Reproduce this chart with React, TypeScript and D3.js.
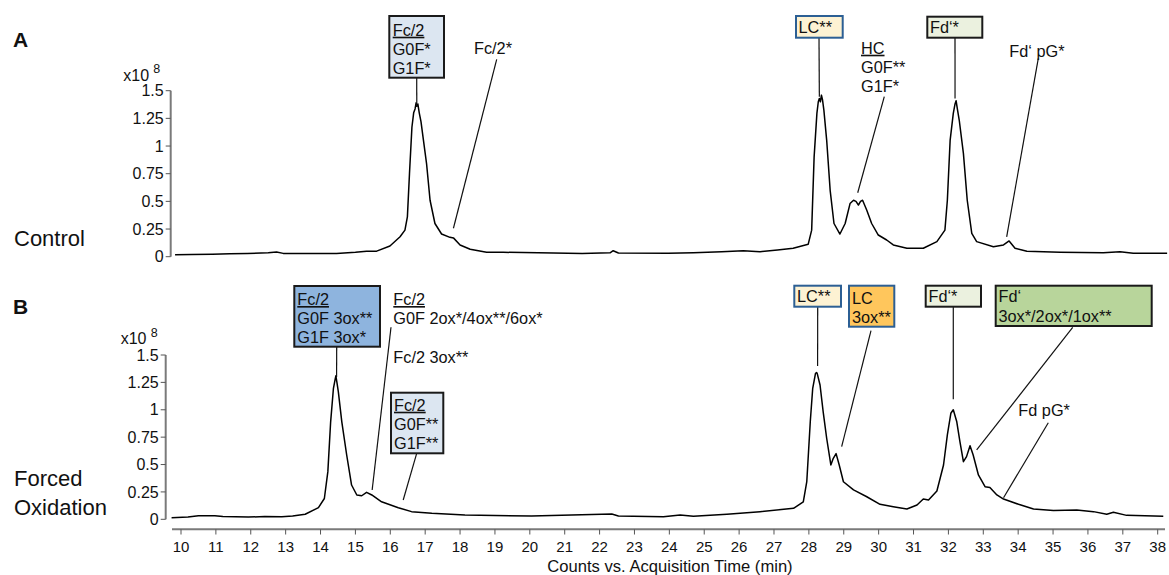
import React from "react";
import * as d3 from "d3";

// ---- Data ----
// Panel A: Control (time in min, counts in 1e8)
const timeA = [9.83, 10.3, 10.9, 11.4, 11.9, 12.5, 12.74, 12.93, 13.6, 14.46, 15.0, 15.32, 15.61, 15.99, 16.28, 16.42, 16.49, 16.55, 16.62, 16.67, 16.71, 16.74, 16.76, 16.79, 16.83, 16.88, 16.95, 17.04, 17.14, 17.28, 17.47, 17.71, 17.81, 18.0, 18.29, 18.76, 19.24, 20.67, 21.5, 22.3, 22.39, 22.54, 23.97, 24.69, 25.5, 26.12, 26.6, 27.1, 27.55, 27.98, 28.08, 28.15, 28.23, 28.27, 28.3, 28.33, 28.36, 28.39, 28.43, 28.51, 28.61, 28.72, 28.89, 29.04, 29.18, 29.28, 29.35, 29.42, 29.48, 29.54, 29.66, 29.8, 29.99, 30.23, 30.42, 30.81, 31.28, 31.67, 31.9, 31.97, 32.05, 32.14, 32.19, 32.22, 32.26, 32.31, 32.43, 32.54, 32.67, 32.81, 33.29, 33.58, 33.74, 33.91, 34.25, 35.2, 36.44, 36.92, 37.3, 38.27];
const countsA = [0.018, 0.02, 0.022, 0.027, 0.03, 0.035, 0.042, 0.03, 0.03, 0.03, 0.04, 0.05, 0.05, 0.097, 0.18, 0.24, 0.36, 0.75, 1.17, 1.3, 1.335, 1.39, 1.36, 1.38, 1.3, 1.22, 1.054, 0.84, 0.51, 0.3, 0.205, 0.175, 0.17, 0.106, 0.067, 0.04, 0.04, 0.033, 0.03, 0.035, 0.054, 0.033, 0.031, 0.035, 0.045, 0.054, 0.045, 0.06, 0.076, 0.112, 0.24, 0.9, 1.295, 1.4, 1.43, 1.4, 1.46, 1.42, 1.325, 1.054, 0.6, 0.3, 0.205, 0.3, 0.48, 0.51, 0.5, 0.467, 0.5, 0.51, 0.42, 0.3, 0.196, 0.151, 0.106, 0.076, 0.076, 0.136, 0.24, 0.51, 1.054, 1.295, 1.38, 1.41, 1.33, 1.235, 0.934, 0.51, 0.21, 0.136, 0.09, 0.106, 0.142, 0.076, 0.05, 0.04, 0.035, 0.045, 0.031, 0.031];

// Panel B: Forced Oxidation
const timeB = [9.73, 10.2, 10.5, 10.97, 11.2, 11.93, 12.4, 12.89, 13.2, 13.56, 13.94, 14.11, 14.21, 14.29, 14.37, 14.42, 14.44, 14.47, 14.51, 14.61, 14.75, 14.89, 15.04, 15.18, 15.32, 15.47, 15.75, 16.23, 16.61, 17.19, 18.14, 20.05, 22.35, 22.54, 23.83, 24.31, 24.69, 25.65, 26.6, 27.56, 27.84, 27.94, 28.04, 28.11, 28.19, 28.22, 28.24, 28.32, 28.41, 28.51, 28.63, 28.7, 28.78, 28.87, 28.99, 29.28, 29.66, 30.04, 30.42, 30.81, 31.1, 31.28, 31.43, 31.67, 31.86, 31.97, 32.07, 32.14, 32.24, 32.33, 32.43, 32.52, 32.62, 32.71, 32.86, 33.05, 33.19, 33.39, 33.58, 34.01, 34.44, 35.01, 35.68, 36.16, 36.54, 36.73, 37.11, 38.16];
const countsB = [0.015, 0.02, 0.032, 0.033, 0.025, 0.02, 0.025, 0.024, 0.03, 0.046, 0.106, 0.19, 0.435, 0.89, 1.196, 1.28, 1.31, 1.25, 1.165, 0.89, 0.587, 0.313, 0.222, 0.215, 0.246, 0.222, 0.16, 0.106, 0.07, 0.055, 0.04, 0.03, 0.048, 0.03, 0.024, 0.04, 0.027, 0.046, 0.07, 0.1, 0.16, 0.343, 0.89, 1.196, 1.333, 1.34, 1.33, 1.226, 0.98, 0.74, 0.496, 0.557, 0.6, 0.496, 0.343, 0.268, 0.206, 0.137, 0.115, 0.094, 0.131, 0.185, 0.176, 0.258, 0.496, 0.77, 0.968, 1.0, 0.89, 0.709, 0.526, 0.572, 0.672, 0.587, 0.405, 0.298, 0.29, 0.222, 0.185, 0.137, 0.094, 0.08, 0.085, 0.07, 0.046, 0.064, 0.036, 0.027];

const xTicks = d3.range(10, 39);
const yTicks = [0, 0.25, 0.5, 0.75, 1, 1.25, 1.5];
const yTickLabels = ["0", "0.25", "0.5", "0.75", "1", "1.25", "1.5"];

const FONT = "Liberation Sans, Arial, Helvetica, sans-serif";

type Line = { text: string; underline?: boolean };
type Ann = {
  lines: Line[];
  tx: number;
  ty: number;
  box?: { x: number; y: number; w: number; h: number; fill: string; stroke: string };
  from?: [number, number];
  target?: [number, number]; // data coords (time, counts)
};

const annA: Ann[] = [
  { lines: [{ text: "Fc/2", underline: true }, { text: "G0F*" }, { text: "G1F*" }], tx: 392.7, ty: 35.7,
    box: { x: 389.3, y: 16, w: 54.7, h: 61.7, fill: "#dce6f1", stroke: "#1a1a1a" }, from: [416.7, 77.7], target: [16.76, 1.355] },
  { lines: [{ text: "Fc/2*" }], tx: 474, ty: 53.7, from: [496.7, 59.3], target: [17.81, 0.257] },
  { lines: [{ text: "LC**" }], tx: 798.5, ty: 32.7,
    box: { x: 796, y: 16, w: 46.7, h: 21.7, fill: "#fdf2d3", stroke: "#2c5f94" }, from: [819, 37.7], target: [28.3, 1.445] },
  { lines: [{ text: "HC", underline: true }, { text: "G0F**" }, { text: "G1F*" }], tx: 861, ty: 53.7, from: [884.3, 96.7], target: [29.4, 0.578] },
  { lines: [{ text: "Fd\u2018*" }], tx: 930, ty: 33,
    box: { x: 927.3, y: 16.7, w: 55, h: 21, fill: "#ebf1df", stroke: "#1a1a1a" }, from: [955, 37.7], target: [32.19, 1.43] },
  { lines: [{ text: "Fd\u2018 pG*" }], tx: 1009.3, ty: 57.4, from: [1038.3, 58.3], target: [33.67, 0.18] },
];

const annB: Ann[] = [
  { lines: [{ text: "Fc/2", underline: true }, { text: "G0F 3ox**" }, { text: "G1F 3ox*" }], tx: 297.3, ty: 305,
    box: { x: 294.3, y: 286, w: 85.7, h: 60.7, fill: "#8eb4de", stroke: "#1a1a1a" }, from: [336.7, 346.7], target: [14.46, 1.3] },
  { lines: [{ text: "Fc/2", underline: true }, { text: "G0F 2ox*/4ox**/6ox*" }], tx: 393.3, ty: 305, from: [391, 327.3], target: [15.48, 0.267] },
  { lines: [{ text: "Fc/2 3ox**" }], tx: 393.3, ty: 363 },
  { lines: [{ text: "Fc/2", underline: true }, { text: "G0F**" }, { text: "G1F**" }], tx: 394, ty: 410.7,
    box: { x: 391, y: 392.7, w: 52.3, h: 60.6, fill: "#dce6f1", stroke: "#1a1a1a" }, from: [416.7, 453.3], target: [16.37, 0.176] },
  { lines: [{ text: "LC**" }], tx: 797, ty: 302,
    box: { x: 794.3, y: 285.7, w: 46.7, h: 21, fill: "#fdf2d3", stroke: "#2c5f94" }, from: [817.7, 306.7], target: [28.25, 1.4] },
  { lines: [{ text: "LC" }, { text: "3ox**" }], tx: 852, ty: 304,
    box: { x: 849, y: 285.7, w: 45.3, h: 41, fill: "#ffc65c", stroke: "#2c5f94" }, from: [871, 330.7], target: [28.94, 0.663] },
  { lines: [{ text: "Fd\u2018*" }], tx: 928.5, ty: 302,
    box: { x: 925.7, y: 285.7, w: 55.3, h: 21, fill: "#ebf1df", stroke: "#1a1a1a" }, from: [953.3, 306.7], target: [32.14, 1.096] },
  { lines: [{ text: "Fd\u2018" }, { text: "3ox*/2ox*/1ox**" }], tx: 998.5, ty: 302.4,
    box: { x: 995.7, y: 285.7, w: 156, h: 40.3, fill: "#b8d59b", stroke: "#1a1a1a" }, from: [1072.7, 327.3], target: [32.81, 0.633] },
  { lines: [{ text: "Fd pG*" }], tx: 1018.3, ty: 415.7, from: [1048.3, 422.7], target: [33.58, 0.197] },
];

const x = d3.scaleLinear().domain([10, 38]).range([181, 1157.7]);
const yA = d3.scaleLinear().domain([0, 1.5]).range([256.7, 90.7]);
const yB = d3.scaleLinear().domain([0, 1.5]).range([519.3, 355]);

function YAxis({ y, ax, exp }: { y: d3.ScaleLinear<number, number>; ax: number; exp: [number, number] }) {
  return (
    <g>
      <line x1={ax} x2={ax} y1={y(1.5)} y2={y(0)} stroke="#7a7a7a" strokeWidth={2} />
      {yTicks.map((t, i) => (
        <g key={t}>
          <line x1={ax - 5} x2={ax} y1={y(t)} y2={y(t)} stroke="#555" strokeWidth={1} />
          <text x={ax - 7} y={y(t) + 5.7} textAnchor="end" fontSize={16} fontFamily={FONT} fill="#111">
            {yTickLabels[i]}
          </text>
        </g>
      ))}
      <text x={exp[0]} y={exp[1]} fontSize={16} fontFamily={FONT} fill="#111">
        x10
      </text>
      <text x={exp[0] + 30} y={exp[1] - 7.5} fontSize={12.5} fontFamily={FONT} fill="#111">
        8
      </text>
    </g>
  );
}

function Annotations({ anns, y }: { anns: Ann[]; y: d3.ScaleLinear<number, number> }) {
  return (
    <g>
      {anns.map((a, i) => (
        <g key={i}>
          {a.from && a.target && (
            <line x1={a.from[0]} y1={a.from[1]} x2={x(a.target[0])} y2={y(a.target[1])} stroke="#111" strokeWidth={1.2} />
          )}
          {a.box && (
            <rect x={a.box.x} y={a.box.y} width={a.box.w} height={a.box.h} fill={a.box.fill} stroke={a.box.stroke} strokeWidth={2} />
          )}
          {a.lines.map((l, j) => (
            <text
              key={j}
              x={a.tx}
              y={a.ty + j * 19.2}
              fontSize={16.3}
              fontFamily={FONT}
              fill="#111"
              style={l.underline ? { textDecoration: "underline" } : undefined}
            >
              {l.text}
            </text>
          ))}
        </g>
      ))}
    </g>
  );
}

export default function App() {
  const lineA = d3
    .line<number>()
    .x((_, i) => x(timeA[i]))
    .y((d) => yA(d))
    .curve(d3.curveLinear);
  const lineB = d3
    .line<number>()
    .x((_, i) => x(timeB[i]))
    .y((d) => yB(d))
    .curve(d3.curveLinear);

  return (
    <svg
      width={1169}
      height={575}
      style={{ position: "absolute", left: 0, top: 0, background: "#fff" }}
      fontFamily={FONT}
    >
      <rect x={0} y={0} width={1169} height={575} fill="#fff" />
      <text x={13} y={46.7} fontSize={21} fontWeight="bold" fontFamily={FONT} fill="#111">A</text>
      <text x={13} y={314.3} fontSize={21} fontWeight="bold" fontFamily={FONT} fill="#111">B</text>
      <text x={14} y={246} fontSize={22} fontFamily={FONT} fill="#111">Control</text>
      <text x={14} y={486} fontSize={22} fontFamily={FONT} fill="#111">Forced</text>
      <text x={14} y={515} fontSize={22} fontFamily={FONT} fill="#111">Oxidation</text>

      <YAxis y={yA} ax={170.7} exp={[123.3, 80.7]} />
      <YAxis y={yB} ax={165.7} exp={[120.7, 344]} />

      <line x1={172} x2={1165} y1={529.3} y2={529.3} stroke="#7a7a7a" strokeWidth={2} />
      {xTicks.map((t) => (
        <g key={t}>
          <line x1={x(t)} x2={x(t)} y1={529.3} y2={534.5} stroke="#555" strokeWidth={1} />
          <text x={x(t)} y={552.3} textAnchor="middle" fontSize={15} fontFamily={FONT} fill="#111">
            {t}
          </text>
        </g>
      ))}
      <text x={670} y={572} textAnchor="middle" fontSize={16.6} fontFamily={FONT} fill="#111">
        Counts vs. Acquisition Time (min)
      </text>

      <path d={lineA(countsA) || ""} fill="none" stroke="#000" strokeWidth={1.5} strokeLinejoin="round" />
      <path d={lineB(countsB) || ""} fill="none" stroke="#000" strokeWidth={1.5} strokeLinejoin="round" />

      <Annotations anns={annA} y={yA} />
      <Annotations anns={annB} y={yB} />
    </svg>
  );
}
